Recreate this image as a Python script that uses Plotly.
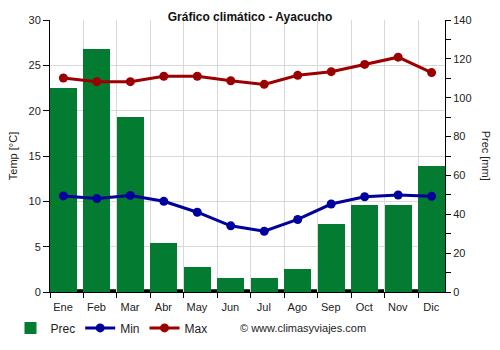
import plotly.graph_objects as go

# Monthly climate data for Ayacucho
months = ["Ene", "Feb", "Mar", "Abr", "May", "Jun", "Jul", "Ago", "Sep", "Oct", "Nov", "Dic"]
prec_mm = [105, 125, 90, 25, 13, 7, 7, 12, 35, 45, 45, 65]
temp_min = [10.6, 10.3, 10.65, 10.0, 8.8, 7.3, 6.7, 8.0, 9.7, 10.5, 10.7, 10.55]
temp_max = [23.6, 23.2, 23.2, 23.8, 23.8, 23.3, 22.9, 23.9, 24.3, 25.1, 25.9, 24.2]

GREEN = "#037b30"
BLUE = "#00009c"
RED = "#9c0000"
FONT = "Liberation Sans, Arial, sans-serif"

idx = list(range(len(months)))
bounds = [i - 0.4 for i in idx]

fig = go.Figure()

# Precipitation bars on the base (right) axis
fig.add_trace(go.Bar(
    x=idx, y=prec_mm, name="Prec", marker=dict(color=GREEN, line=dict(width=0)),
    width=0.8, yaxis="y",
))
# Temperatures on the overlaying (left) axis
fig.add_trace(go.Scatter(
    x=idx, y=temp_min, name="Min", mode="lines+markers",
    line=dict(color=BLUE, width=3), marker=dict(size=9, color=BLUE),
    yaxis="y2",
))
fig.add_trace(go.Scatter(
    x=idx, y=temp_max, name="Max", mode="lines+markers",
    line=dict(color=RED, width=3), marker=dict(size=9, color=RED),
    yaxis="y2",
))

fig.update_layout(
    width=500, height=350,
    margin=dict(l=49.5, r=55, t=19.5, b=58, autoexpand=False),
    paper_bgcolor="white", plot_bgcolor="white",
    font=dict(family=FONT, size=11, color="#222"),
    title=dict(text="<b>Gráfico climático - Ayacucho</b>", x=0.5, xanchor="center",
               y=0.951, yanchor="middle", font=dict(size=12, color="#111")),
    bargap=0,
    showlegend=True,
    legend=dict(orientation="h", x=-0.1, xanchor="left", y=-0.132, yanchor="middle",
                font=dict(size=12, color="#222"), itemwidth=30, tracegroupgap=0),
    xaxis=dict(
        range=[-0.4, 11.4], tickvals=bounds, ticktext=months, ticklabelshift=13,
        ticks="outside", ticklen=5, tickcolor="black",
        showgrid=True, gridcolor="#d9d9d9", gridwidth=1,
        showline=True, linecolor="black", linewidth=1,
        zeroline=False, tickfont=dict(size=11, color="#222"),
    ),
    yaxis=dict(
        range=[0, 140], side="right", dtick=20, ticks="outside", ticklen=5,
        tickcolor="black", showline=True, linecolor="black", linewidth=1,
        showgrid=False, zeroline=False, tickfont=dict(size=11, color="#222"),
        minor=dict(dtick=10, ticks="outside", ticklen=5, tickcolor="black", showgrid=False),
    ),
    yaxis2=dict(
        range=[0, 30], side="left", overlaying="y", dtick=5, ticks="outside", ticklen=6,
        tickcolor="black", showline=True, linecolor="black", linewidth=1,
        showgrid=True, gridcolor="#d9d9d9", gridwidth=1, zeroline=False,
        title=dict(text="Temp [°C]", font=dict(size=11, color="#222"), standoff=8),
        tickfont=dict(size=11, color="#222"),
    ),
)

# Thick baseline along the bottom of the plot
fig.add_shape(type="line", xref="paper", yref="y2", x0=0, x1=1, y0=0.13, y1=0.13,
              line=dict(color="black", width=3), layer="below")

fig.add_annotation(text="Prec [mm]", xref="paper", yref="paper", x=1.125, y=0.5,
                   textangle=90, showarrow=False, font=dict(size=11, color="#222"))
fig.add_annotation(text="© www.climasyviajes.com", xref="paper", yref="paper",
                   x=0.475, y=-0.132, xanchor="left", yanchor="middle", showarrow=False,
                   font=dict(size=11, color="#222"))

fig.write_html("out.html")
